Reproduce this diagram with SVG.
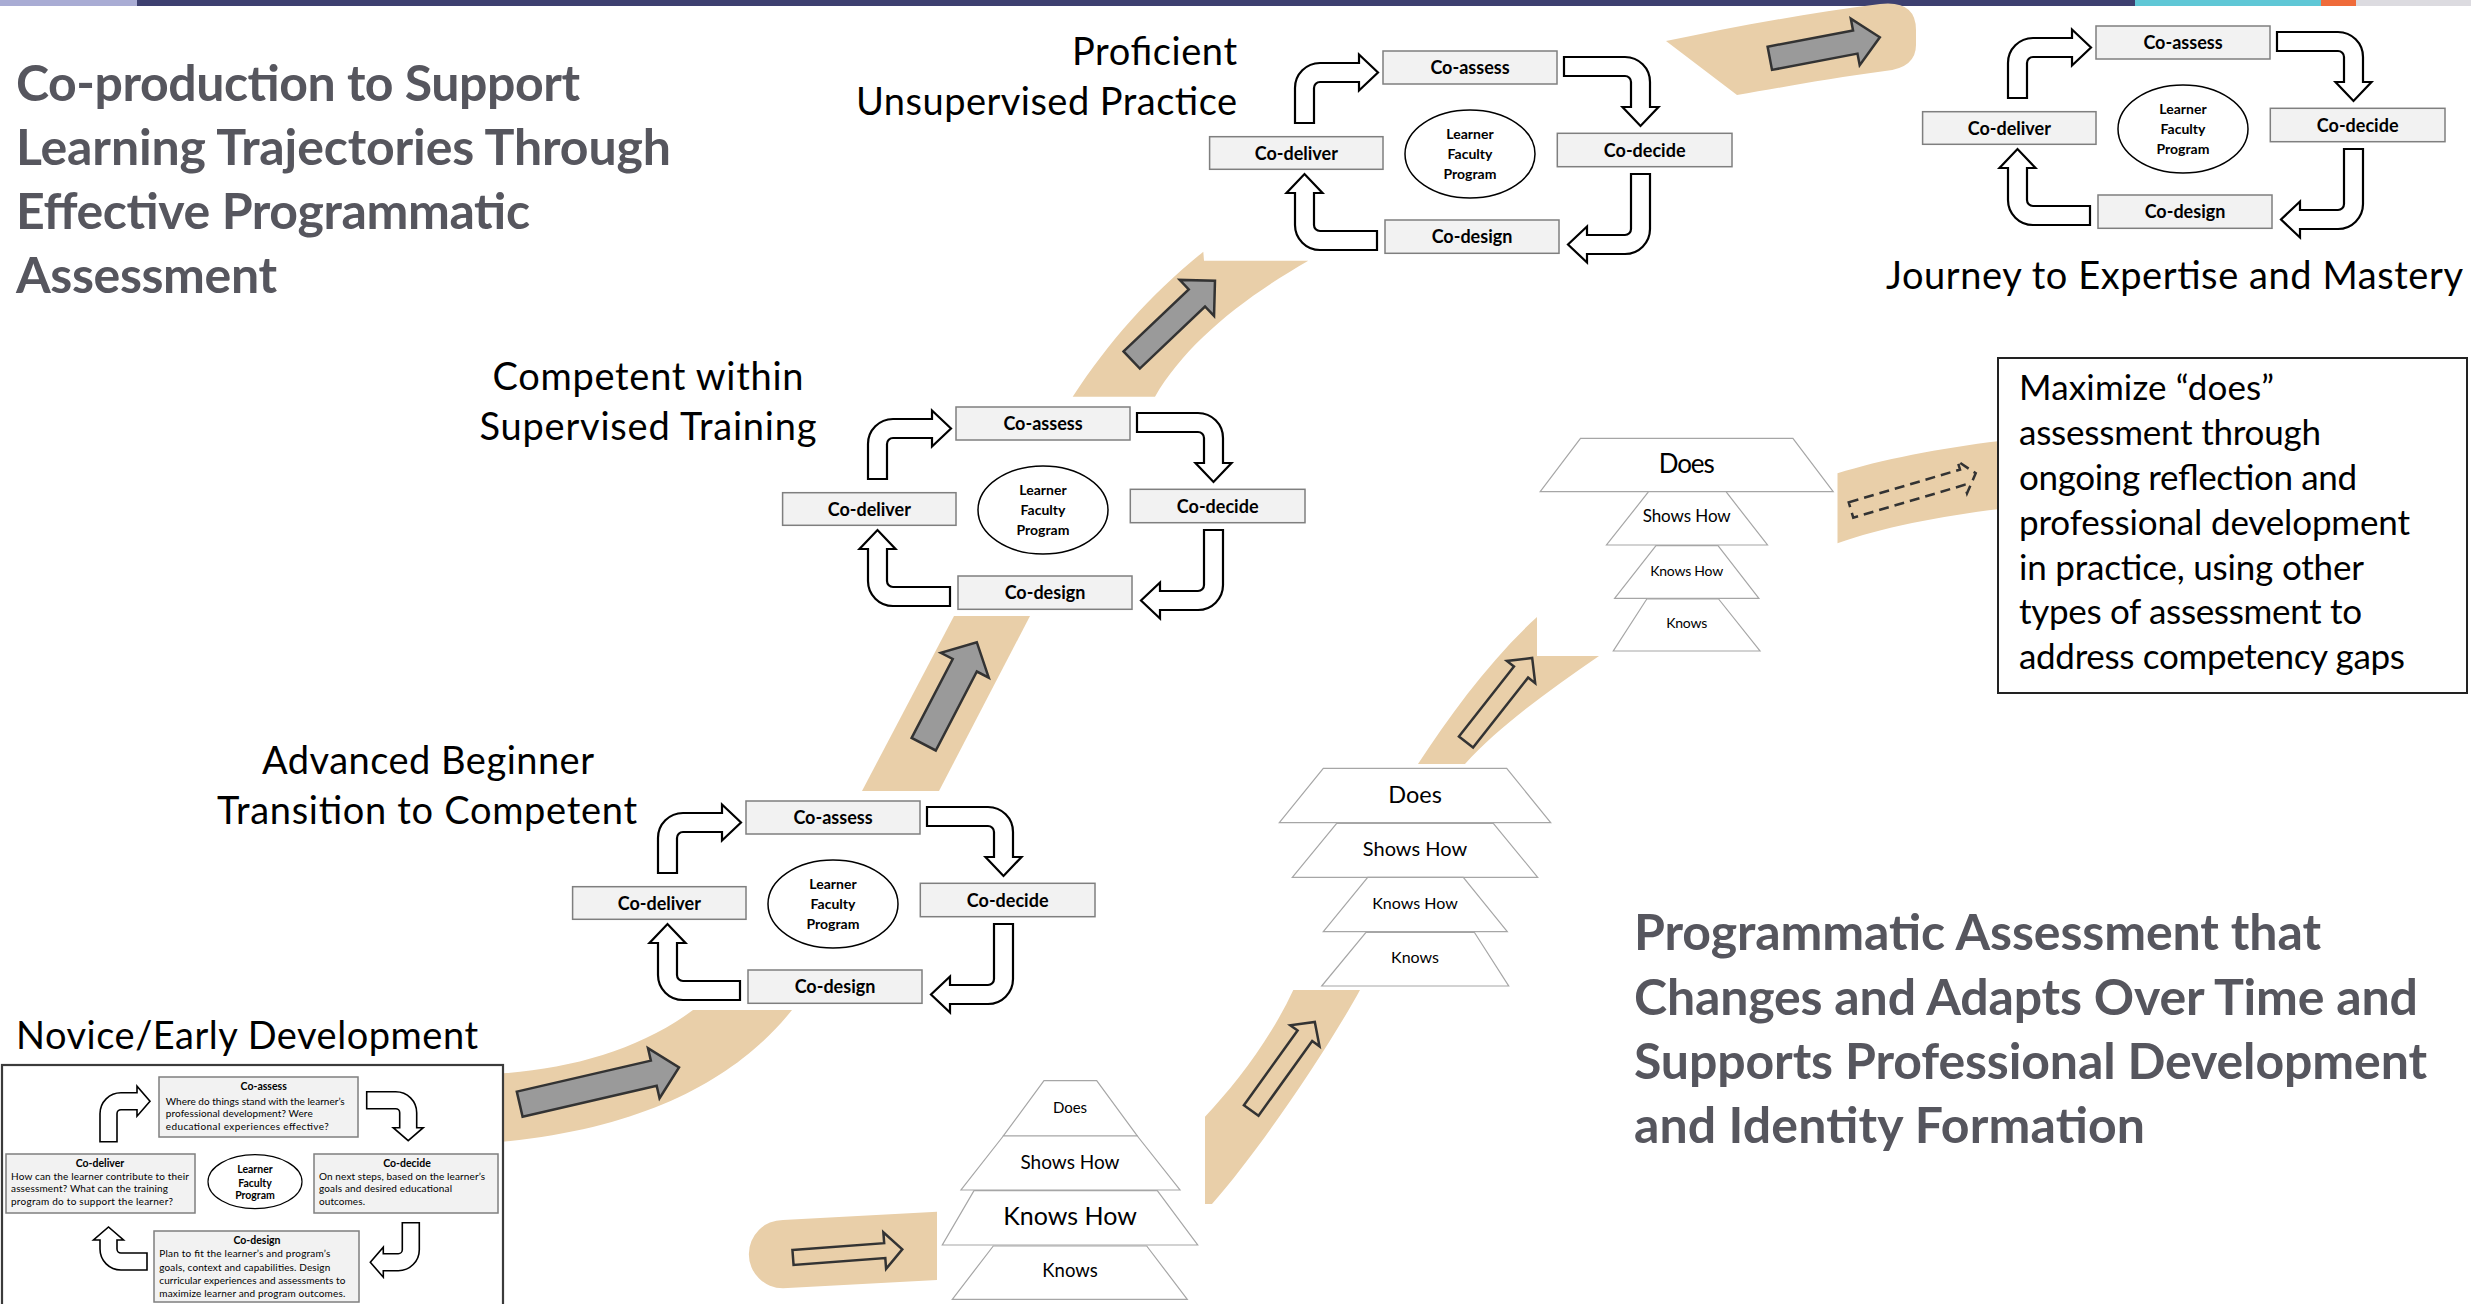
<svg xmlns="http://www.w3.org/2000/svg" xmlns:xlink="http://www.w3.org/1999/xlink" width="2471" height="1304" viewBox="0 0 2471 1304">
<style>
  .band{fill:#e9cfa9}
  .blk{fill:#9a9a9a;stroke:#333;stroke-width:2.5;stroke-linejoin:miter}
  .hollow{fill:none;stroke:#333;stroke-width:2.5;stroke-linejoin:miter}
  .dash{fill:none;stroke:#333;stroke-width:2.5;stroke-dasharray:10 6}
  .bend{fill:#fff;stroke:#000;stroke-width:2.2;stroke-linejoin:miter}
  .bendS{fill:#fff;stroke:#000;stroke-width:1.6;stroke-linejoin:miter}
  .box{fill:#f2f2f2;stroke:#7f7f7f;stroke-width:1.5}
  .oval{fill:#fff;stroke:#000;stroke-width:1.5}
  .tier{fill:#fff;stroke:#a6a6a6;stroke-width:1.2}
  text{font-family:Lato,'Liberation Sans',sans-serif;fill:#000}
  .lbl{font-weight:bold;font-size:18px;text-anchor:middle}
  .ov{font-weight:bold;font-size:14px;text-anchor:middle}
  .tt{text-anchor:middle}
  .title{font-weight:bold;font-size:50px;fill:#56565e}
  .stage{font-size:38px}
  .note{font-size:35px}
  .ns{font-size:10px}
  .nb{font-size:10.5px;font-weight:bold;text-anchor:middle}
</style>
<defs>
  <!-- bent cycle arrows, placed for the cycle whose Co-assess box sits at (746,801) -->
  <path id="ca1" class="bend" transform="translate(658 813)" d="M0 60L0 25A25 25 0 0 1 25 0L64 0L64 -8.5L83 9.5L64 27.5L64 19L25 19A6 6 0 0 0 19 25L19 60Z"/>
  <path id="ca2" class="bend" transform="translate(1013 807) rotate(90)" d="M0 86L0 25A25 25 0 0 1 25 0L50 0L50 -8.5L69 9.5L50 27.5L50 19L25 19A6 6 0 0 0 19 25L19 86Z"/>
  <path id="ca3" class="bend" transform="translate(1013 1004) rotate(180)" d="M0 80L0 25A25 25 0 0 1 25 0L63 0L63 -8.5L82 9.5L63 27.5L63 19L25 19A6 6 0 0 0 19 25L19 80Z"/>
  <path id="ca4" class="bend" transform="translate(658 1000) rotate(270)" d="M0 82L0 25A25 25 0 0 1 25 0L57 0L57 -8.5L76 9.5L57 27.5L57 19L25 19A6 6 0 0 0 19 25L19 82Z"/>
</defs>

<!-- header strip -->
<g id="header-bar">
  <rect x="0" y="0" width="137" height="6" fill="#a9acd4"/>
  <rect x="137" y="0" width="1998" height="6" fill="#3d4070"/>
  <rect x="2135" y="0" width="186" height="6" fill="#5fc7d6"/>
  <rect x="2321" y="0" width="35" height="6" fill="#ef6b3a"/>
  <rect x="2356" y="0" width="115" height="6" fill="#dcdbe0"/>
</g>

<!-- tan pathway bands -->
<g id="bands">
  <path class="band" d="M490 1074C565 1071 640 1050 693 1010L792 1010C740 1075 650 1130 490 1143Z"/>
  <path class="band" d="M862 791L939 791L1030 616L954 616Z"/>
  <path class="band" d="M1072.7 396.7C1110 340 1150 295 1203.3 251.7L1204 260.7L1308.3 260.7C1240 300 1185 345 1155 396.7Z"/>
  <path class="band" d="M1666 41C1730 28 1800 14 1880 4Q1916 0 1916 30L1916 45Q1916 68 1885 71C1830 78 1780 88 1737 95Z"/>
  <path class="band" d="M937 1211.7L783 1220A34.15 34.15 0 0 0 783 1288.3L937 1280Z"/>
  <path class="band" d="M1293.3 990L1360 990C1330 1045 1260 1150 1212 1204L1205 1204L1205 1116.7C1235 1085 1270 1040 1293.3 990Z"/>
  <path class="band" d="M1418 764C1450 715 1490 660 1537 617L1537 656L1599 656C1550 690 1500 725 1465 764Z"/>
  <path class="band" d="M1837.5 473.3C1880 460 1940 448 2000 441L2000 509C1940 516 1880 528 1837.5 543.3Z"/>
</g>

<!-- Novice / early development detailed cycle -->
<g id="stage-novice">
  <rect x="2" y="1065" width="501" height="250" fill="#fff" stroke="#3b3b3b" stroke-width="2.2"/>
  <g id="nov-co-assess">
    <rect class="box" x="159" y="1077" width="199" height="60"/>
    <text class="nb" x="263.7" y="1090">Co-assess</text>
    <text class="ns" x="165.7" y="1104.5" textLength="179">Where do things stand with the learner’s</text>
    <text class="ns" x="165.7" y="1117" textLength="147">professional development? Were</text>
    <text class="ns" x="165.7" y="1129.5" textLength="163">educational experiences effective?</text>
  </g>
  <g id="nov-co-deliver">
    <rect class="box" x="6" y="1154" width="189" height="59"/>
    <text class="nb" x="100" y="1166.7">Co-deliver</text>
    <text class="ns" x="11" y="1179.5" textLength="178">How can the learner contribute to their</text>
    <text class="ns" x="11" y="1192.3" textLength="157">assessment? What can the training</text>
    <text class="ns" x="11" y="1205" textLength="162">program do to support the learner?</text>
  </g>
  <g id="nov-co-decide">
    <rect class="box" x="314" y="1154" width="184" height="59"/>
    <text class="nb" x="407" y="1166.7">Co-decide</text>
    <text class="ns" x="319" y="1179.5" textLength="166">On next steps, based on the learner’s</text>
    <text class="ns" x="319" y="1192.3" textLength="133">goals and desired educational</text>
    <text class="ns" x="319" y="1205" textLength="46">outcomes.</text>
  </g>
  <g id="nov-co-design">
    <rect class="box" x="154" y="1231" width="205" height="71"/>
    <text class="nb" x="257" y="1244">Co-design</text>
    <text class="ns" x="159.3" y="1257.3" textLength="171">Plan to fit the learner’s and program’s</text>
    <text class="ns" x="159.3" y="1270.6" textLength="171">goals, context and capabilities. Design</text>
    <text class="ns" x="159.3" y="1284" textLength="186">curricular experiences and assessments to</text>
    <text class="ns" x="159.3" y="1297.3" textLength="186">maximize learner and program outcomes.</text>
  </g>
  <g id="nov-center">
    <ellipse cx="255" cy="1181.7" rx="47" ry="27" fill="#fff" stroke="#000" stroke-width="1.2"/>
    <text class="nb" x="255" y="1173.3">Learner</text>
    <text class="nb" x="255" y="1186.7">Faculty</text>
    <text class="nb" x="255" y="1199.3">Program</text>
  </g>
</g>

<!-- four compact cycles sharing one layout -->
<g id="stage-advanced">
  <g id="adv-co-assess"><rect class="box" x="746" y="801" width="174" height="33"/><text class="lbl" x="833" y="824">Co-assess</text></g>
  <g id="adv-co-deliver"><rect class="box" x="572.6" y="886.7" width="173.4" height="32.6"/><text class="lbl" x="659.3" y="909.5">Co-deliver</text></g>
  <g id="adv-co-decide"><rect class="box" x="920.3" y="883.3" width="174.7" height="33.4"/><text class="lbl" x="1007.7" y="906.5">Co-decide</text></g>
  <g id="adv-co-design"><rect class="box" x="748" y="970" width="174" height="33.3"/><text class="lbl" x="835" y="993">Co-design</text></g>
  <g id="adv-center"><ellipse class="oval" cx="833" cy="904" rx="65" ry="44"/><text class="ov" x="833" y="889">Learner</text><text class="ov" x="833" y="909">Faculty</text><text class="ov" x="833" y="929">Program</text></g>
</g>
<g id="stage-competent" transform="translate(210 -394)">
  <g id="comp-co-assess"><rect class="box" x="746" y="801" width="174" height="33"/><text class="lbl" x="833" y="824">Co-assess</text></g>
  <g id="comp-co-deliver"><rect class="box" x="572.6" y="886.7" width="173.4" height="32.6"/><text class="lbl" x="659.3" y="909.5">Co-deliver</text></g>
  <g id="comp-co-decide"><rect class="box" x="920.3" y="883.3" width="174.7" height="33.4"/><text class="lbl" x="1007.7" y="906.5">Co-decide</text></g>
  <g id="comp-co-design"><rect class="box" x="748" y="970" width="174" height="33.3"/><text class="lbl" x="835" y="993">Co-design</text></g>
  <g id="comp-center"><ellipse class="oval" cx="833" cy="904" rx="65" ry="44"/><text class="ov" x="833" y="889">Learner</text><text class="ov" x="833" y="909">Faculty</text><text class="ov" x="833" y="929">Program</text></g>
</g>
<g id="stage-proficient" transform="translate(637 -750)">
  <g id="prof-co-assess"><rect class="box" x="746" y="801" width="174" height="33"/><text class="lbl" x="833" y="824">Co-assess</text></g>
  <g id="prof-co-deliver"><rect class="box" x="572.6" y="886.7" width="173.4" height="32.6"/><text class="lbl" x="659.3" y="909.5">Co-deliver</text></g>
  <g id="prof-co-decide"><rect class="box" x="920.3" y="883.3" width="174.7" height="33.4"/><text class="lbl" x="1007.7" y="906.5">Co-decide</text></g>
  <g id="prof-co-design"><rect class="box" x="748" y="970" width="174" height="33.3"/><text class="lbl" x="835" y="993">Co-design</text></g>
  <g id="prof-center"><ellipse class="oval" cx="833" cy="904" rx="65" ry="44"/><text class="ov" x="833" y="889">Learner</text><text class="ov" x="833" y="909">Faculty</text><text class="ov" x="833" y="929">Program</text></g>
</g>
<g id="stage-expertise" transform="translate(1350 -775)">
  <g id="exp-co-assess"><rect class="box" x="746" y="801" width="174" height="33"/><text class="lbl" x="833" y="824">Co-assess</text></g>
  <g id="exp-co-deliver"><rect class="box" x="572.6" y="886.7" width="173.4" height="32.6"/><text class="lbl" x="659.3" y="909.5">Co-deliver</text></g>
  <g id="exp-co-decide"><rect class="box" x="920.3" y="883.3" width="174.7" height="33.4"/><text class="lbl" x="1007.7" y="906.5">Co-decide</text></g>
  <g id="exp-co-design"><rect class="box" x="748" y="970" width="174" height="33.3"/><text class="lbl" x="835" y="993">Co-design</text></g>
  <g id="exp-center"><ellipse class="oval" cx="833" cy="904" rx="65" ry="44"/><text class="ov" x="833" y="889">Learner</text><text class="ov" x="833" y="909">Faculty</text><text class="ov" x="833" y="929">Program</text></g>
</g>

<!-- Miller's pyramids -->
<g id="pyramid-1">
  <polygon class="tier" points="1044,1080.7 1096.7,1080.7 1137.3,1136 1003.3,1136"/>
  <polygon class="tier" points="1003.3,1136 1137.3,1136 1180,1190 961,1190"/>
  <polygon class="tier" points="974,1190.7 1157.3,1190.7 1197.7,1245 942.3,1245"/>
  <polygon class="tier" points="993.3,1246 1146.7,1246 1187.3,1299.3 952.3,1299.3"/>
  <text class="tt" x="1070" y="1112.7" style="font-size:15px">Does</text>
  <text class="tt" x="1070" y="1168.7" style="font-size:19px">Shows How</text>
  <text class="tt" x="1070" y="1225" style="font-size:25px">Knows How</text>
  <text class="tt" x="1070" y="1277.3" style="font-size:18.5px">Knows</text>
</g>
<g id="pyramid-2">
  <polygon class="tier" points="1323.3,768.3 1506.7,768.3 1550.7,822.7 1279.3,822.7"/>
  <polygon class="tier" points="1336.7,823.3 1493.3,823.3 1537.7,877.3 1292.3,877.3"/>
  <polygon class="tier" points="1367.7,877.3 1463.3,877.3 1507.3,931.7 1323.3,931.7"/>
  <polygon class="tier" points="1366,932.3 1474.3,932.3 1508.7,986 1321.7,986"/>
  <text class="tt" x="1415" y="802.7" style="font-size:23.5px">Does</text>
  <text class="tt" x="1415" y="855.7" style="font-size:20px">Shows How</text>
  <text class="tt" x="1415" y="909" style="font-size:16px">Knows How</text>
  <text class="tt" x="1415" y="963.3" style="font-size:16px">Knows</text>
</g>
<g id="pyramid-3">
  <polygon class="tier" points="1580.5,438.3 1792.9,438.3 1833.2,491.7 1540.2,491.7"/>
  <polygon class="tier" points="1648.6,491.7 1726,491.7 1767.5,545 1606.5,545"/>
  <polygon class="tier" points="1656,545.7 1718,545.7 1758.9,598.3 1614.6,598.3"/>
  <polygon class="tier" points="1646.8,599 1718.6,599 1760,651 1613.3,651"/>
  <text class="tt" x="1686.7" y="473.3" style="font-size:26px" textLength="56">Does</text>
  <text class="tt" x="1686.7" y="522.3" style="font-size:17px" textLength="88">Shows How</text>
  <text class="tt" x="1686.7" y="575.7" style="font-size:14px" textLength="73">Knows How</text>
  <text class="tt" x="1686.7" y="628.3" style="font-size:14px" textLength="41">Knows</text>
</g>

<!-- reflection note -->
<g id="note-box">
  <rect x="1998" y="358" width="469" height="335" fill="#fff" stroke="#222" stroke-width="2"/>
  <text class="note" x="2019" y="400" textLength="255">Maximize “does”</text>
  <text class="note" x="2019" y="445" textLength="302">assessment through</text>
  <text class="note" x="2019" y="490" textLength="338">ongoing reflection and</text>
  <text class="note" x="2019" y="535" textLength="391">professional development</text>
  <text class="note" x="2019" y="580" textLength="345">in practice, using other</text>
  <text class="note" x="2019" y="624" textLength="343">types of assessment to</text>
  <text class="note" x="2019" y="669" textLength="386">address competency gaps</text>
</g>

<!-- arrows -->
<g id="connectors">
  <path class="blk" transform="translate(519.7 1104.2) rotate(-13)" d="M0 -12.9L137.6 -12.9L137.6 -25.7L163.5 0L137.6 25.7L137.6 12.9L0 12.9Z"/>
  <path class="blk" transform="translate(923.7 744.2) rotate(-62.5)" d="M0 -13.6L89 -13.6L89 -27L115 0L89 27L89 13.6L0 13.6Z"/>
  <path class="blk" transform="translate(1131.7 360) rotate(-43.6)" d="M0 -11.8L90 -11.8L90 -24.9L115 0L90 24.9L90 11.8L0 11.8Z"/>
  <path class="blk" transform="translate(1769.8 58.3) rotate(-10.8)" d="M0 -11.8L87 -11.8L87 -23.7L112 0L87 23.7L87 11.8L0 11.8Z"/>
  <path class="hollow" transform="translate(793 1257.5) rotate(-4.3)" d="M0 -7.5L92 -7.5L92 -18.3L109.6 0L92 18.3L92 7.5L0 7.5Z"/>
  <path class="hollow" transform="translate(1251.2 1110.5) rotate(-54.3)" d="M0 -9L92 -9L92 -18L109 0L92 18L92 9L0 9Z"/>
  <path class="hollow" transform="translate(1466 742) rotate(-51.8)" d="M0 -9L89 -9L89 -18L107 0L89 18L89 9L0 9Z"/>
  <path class="dash" transform="translate(1851 510) rotate(-16.4)" d="M0 -8L116 -8L116 -16.7L130 0L116 16.7L116 8L0 8Z"/>

  <g id="novice-loop">
    <path class="bendS" transform="translate(100 1092.7)" d="M0 49L0 21A21 21 0 0 1 21 0L37 0L37 -6.5L50 8.5L37 23.5L37 17L21 17A4 4 0 0 0 17 21L17 49Z"/>
    <path class="bendS" transform="translate(416.7 1091.7) rotate(90)" d="M0 50L0 21A21 21 0 0 1 21 0L36 0L36 -6.5L49 8.5L36 23.5L36 17L21 17A4 4 0 0 0 17 21L17 50Z"/>
    <path class="bendS" transform="translate(419.3 1270.7) rotate(180)" d="M0 48L0 21A21 21 0 0 1 21 0L36 0L36 -6.5L49 8.5L36 23.5L36 17L21 17A4 4 0 0 0 17 21L17 48Z"/>
    <path class="bendS" transform="translate(100 1270) rotate(270)" d="M0 47L0 21A21 21 0 0 1 21 0L30 0L30 -6.5L43 8.5L30 23.5L30 17L21 17A4 4 0 0 0 17 21L17 47Z"/>
  </g>
  <g id="advanced-loop"><use href="#ca1"/><use href="#ca2"/><use href="#ca3"/><use href="#ca4"/></g>
  <g id="competent-loop" transform="translate(210 -394)"><use href="#ca1"/><use href="#ca2"/><use href="#ca3"/><use href="#ca4"/></g>
  <g id="proficient-loop" transform="translate(637 -750)"><use href="#ca1"/><use href="#ca2"/><use href="#ca3"/><use href="#ca4"/></g>
  <g id="expertise-loop" transform="translate(1350 -775)"><use href="#ca1"/><use href="#ca2"/><use href="#ca3"/><use href="#ca4"/></g>
</g>

<!-- headings and stage labels -->
<g id="titles">
  <text class="title" x="16" y="101" textLength="564">Co-production to Support</text>
  <text class="title" x="16" y="165" textLength="655">Learning Trajectories Through</text>
  <text class="title" x="16" y="229" textLength="514">Effective Programmatic</text>
  <text class="title" x="16" y="293" textLength="261">Assessment</text>

  <text class="title" x="1634" y="950" textLength="687">Programmatic Assessment that</text>
  <text class="title" x="1634" y="1015" textLength="784">Changes and Adapts Over Time and</text>
  <text class="title" x="1634" y="1079" textLength="793">Supports Professional Development</text>
  <text class="title" x="1634" y="1143" textLength="511">and Identity Formation</text>
</g>
<g id="stage-labels">
  <text class="stage" x="1237" y="65" text-anchor="end" textLength="165">Proficient</text>
  <text class="stage" x="1237" y="115" text-anchor="end" textLength="381">Unsupervised Practice</text>
  <text class="stage" x="648" y="390" text-anchor="middle" textLength="311">Competent within</text>
  <text class="stage" x="648" y="440" text-anchor="middle" textLength="337">Supervised Training</text>
  <text class="stage" x="428" y="774" text-anchor="middle" textLength="332">Advanced Beginner</text>
  <text class="stage" x="427" y="824" text-anchor="middle" textLength="420">Transition to Competent</text>
  <text class="stage" x="16" y="1049" textLength="462">Novice/Early Development</text>
  <text class="stage" x="1886" y="289" textLength="577">Journey to Expertise and Mastery</text>
</g>
</svg>
